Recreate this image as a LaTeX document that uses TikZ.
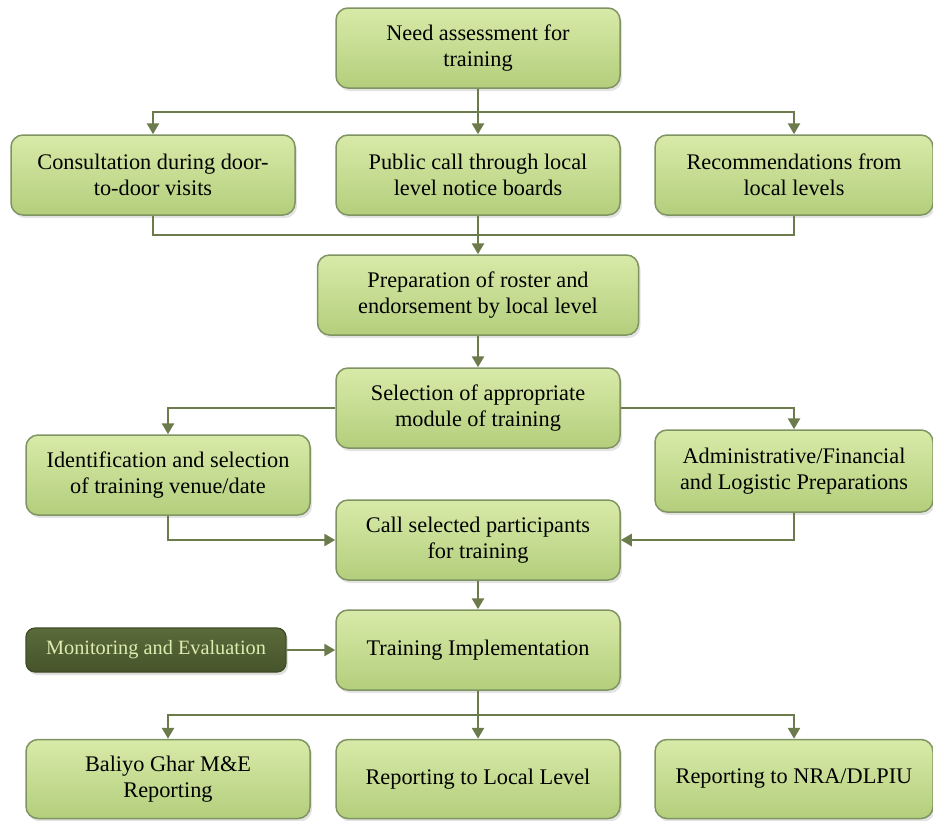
\documentclass[tikz,border=0pt]{standalone}
\usepackage{fontspec}
\setmainfont{Liberation Serif}
\usetikzlibrary{arrows.meta,shadows}

\definecolor{boxtop}{HTML}{D8EAA8}
\definecolor{boxbot}{HTML}{B3CE7C}
\definecolor{boxdraw}{HTML}{7F9462}
\definecolor{linecol}{HTML}{6B7B4C}
\definecolor{darktop}{HTML}{5A6A3A}
\definecolor{darkbot}{HTML}{46542B}
\definecolor{darkdraw}{HTML}{3E4A26}
\definecolor{darktext}{HTML}{DCEDB0}

\begin{document}
\begin{tikzpicture}[x=1pt,y=-1pt,
  box/.style={draw=boxdraw, line width=1.5pt, rounded corners=12pt,
    top color=boxtop, bottom color=boxbot, align=center,
    font=\fontsize{22.3}{26}\selectfont, text=black, inner sep=0pt,
    minimum width=284pt, minimum height=80pt,
    drop shadow={opacity=0.22, shadow xshift=2pt, shadow yshift=-3pt}},
  darkbox/.style={draw=darkdraw, line width=1.2pt, rounded corners=9pt,
    top color=darktop, bottom color=darkbot, align=center,
    font=\fontsize{20.3}{24}\selectfont, text=darktext, inner sep=0pt,
    minimum width=260pt, minimum height=44pt,
    drop shadow={opacity=0.25, shadow xshift=2pt, shadow yshift=-3pt}},
  conn/.style={draw=linecol, line width=2.6pt},
  arr/.style={conn, -{Triangle[length=11pt,width=12pt]}}
]
\useasboundingbox (0,0) rectangle (933,820);

% boxes
\node[box] (A) at (478,48) {Need assessment for\\training};
\node[box] (B1) at (153,175) {Consultation during door-\\to-door visits};
\node[box] (B2) at (478,175) {Public call through local\\level notice boards};
\node[box, minimum width=278pt] (B3) at (794,175) {Recommendations from\\local levels};
\node[box, minimum width=321pt] (C) at (478,295) {Preparation of roster and\\endorsement by local level};
\node[box] (D) at (478,408) {Selection of appropriate\\module of training};
\node[box] (E1) at (168,475) {Identification and selection\\of training venue/date};
\node[box, minimum width=278pt, minimum height=82pt] (E2) at (794,471) {Administrative/Financial\\and Logistic Preparations};
\node[box] (F) at (478,540) {Call selected participants\\for training};
\node[box] (G) at (478,650) {Training Implementation};
\node[darkbox] (M) at (156,650) {Monitoring and Evaluation};
\node[box, minimum height=79pt] (H1) at (168,779) {Baliyo Ghar M\&E\\Reporting};
\node[box, minimum height=79pt] (H2) at (478,779) {Reporting to Local Level};
\node[box, minimum width=278pt, minimum height=79pt] (H3) at (794,779) {Reporting to NRA/DLPIU};

% junctions
\coordinate (j1) at (478,112);
\coordinate (j2) at (478,235);
\coordinate (j3) at (478,715);

% connectors
\draw[arr] (A) -- (B2);
\draw[arr] (j1) -| (B1.north);
\draw[arr] (j1) -| (B3.north);
\draw[conn] (B1.south) |- (j2) -| (B3.south);
\draw[arr] (B2) -- (C);
\draw[arr] (C) -- (D);
\draw[arr] (D.west) -| (E1.north);
\draw[arr] (D.east) -| (E2.north);
\draw[arr] (E1.south) |- (F.west);
\draw[arr] (E2.south) |- (F.east);
\draw[arr] (F) -- (G);
\draw[arr] (M) -- (G);
\draw[arr] (G) -- (H2);
\draw[arr] (j3) -| (H1.north);
\draw[arr] (j3) -| (H3.north);
\end{tikzpicture}
\end{document}
